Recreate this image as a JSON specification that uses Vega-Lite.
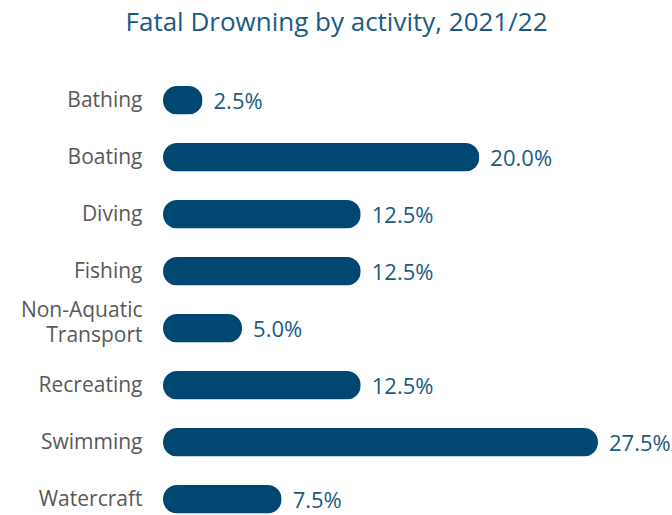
{
  "$schema": "https://vega.github.io/schema/vega-lite/v6.json",
  "autosize": "none",
  "width": 435,
  "height": 427.5,
  "padding": {"left": 163, "top": 86, "right": 74, "bottom": 1.5},
  "background": "white",
  "title": {
    "text": "Fatal Drowning by activity, 2021/22",
    "font": "Open Sans",
    "fontSize": 26,
    "fontWeight": "normal",
    "color": "#1b5a83",
    "anchor": "middle",
    "dx": -44,
    "offset": 50
  },
  "data": {
    "values": [
      {"activity": "Bathing", "pct": 2.5},
      {"activity": "Boating", "pct": 20.0},
      {"activity": "Diving", "pct": 12.5},
      {"activity": "Fishing", "pct": 12.5},
      {"activity": "Non-Aquatic Transport", "pct": 5.0},
      {"activity": "Recreating", "pct": 12.5},
      {"activity": "Swimming", "pct": 27.5},
      {"activity": "Watercraft", "pct": 7.5}
    ]
  },
  "encoding": {
    "y": {
      "field": "activity",
      "type": "nominal",
      "sort": null,
      "scale": {"paddingInner": 0.5, "paddingOuter": 0},
      "axis": {
        "title": null,
        "domain": false,
        "ticks": false,
        "labelPadding": 21,
        "labelFont": "Open Sans",
        "labelFontSize": 21,
        "labelColor": "#595959",
        "labelLineHeight": 25,
        "labelOffset": {"condition": {"test": "datum.value == 'Non-Aquatic Transport'", "value": -17}, "value": 1},
        "labelExpr": "datum.value == 'Non-Aquatic Transport' ? ['Non-Aquatic', 'Transport'] : datum.value"
      }
    },
    "x": {
      "field": "pct",
      "type": "quantitative",
      "scale": {"domain": [0, 27.5], "nice": false},
      "axis": null
    }
  },
  "layer": [
    {
      "mark": {"type": "bar", "cornerRadius": 14, "color": "#004872"}
    },
    {
      "mark": {
        "type": "text",
        "align": "left",
        "baseline": "middle",
        "dx": 11,
        "dy": 2,
        "font": "Open Sans",
        "fontSize": 22,
        "color": "#1b5a83",
        "text": {"expr": "format(datum.pct, '.1f') + '%'"}
      }
    }
  ],
  "config": {"view": {"stroke": null}}
}
